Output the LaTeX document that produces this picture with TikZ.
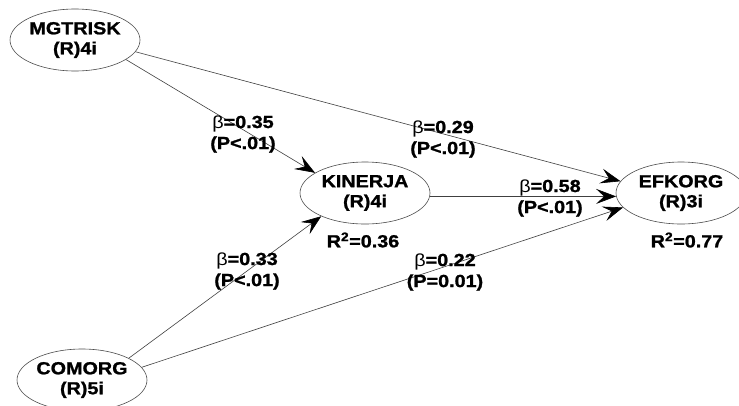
\documentclass[tikz,border=0pt]{standalone}
\usepackage{fontspec}
\setmainfont{Liberation Sans}
\newfontfamily\lblfont[FakeStretch=1.13,BoldFeatures={FakeBold=1.2}]{Liberation Sans}
\usetikzlibrary{shapes.geometric,arrows.meta}
\tikzset{
  construct/.style={ellipse,draw=black!70,line width=0.6pt,minimum width=130pt,minimum height=62pt,inner sep=0pt,align=center,font=\lblfont\bfseries\fontsize{17.5}{20}\selectfont},
  lbl/.style={align=center,inner sep=0pt,font=\lblfont\bfseries\fontsize{17.5}{21}\selectfont},
  path/.style={draw=black!75,line width=0.6pt,-{Stealth[length=20pt,width=15pt,inset=8pt,color=black]}},
}
\newcommand{\bt}{{\mdseries β}}
\begin{document}
\begin{tikzpicture}[x=1pt,y=-1pt]
\useasboundingbox[fill=white] (0,0) rectangle (739,405);
\node[construct] (m) at (75,40) {MGTRISK\\(R)4i};
\node[construct] (k) at (365,193) {KINERJA\\(R)4i};
\node[construct] (e) at (681,193) {EFKORG\\(R)3i};
\node[construct] (c) at (82,380) {COMORG\\(R)5i};
\draw[path] (m.-21) -- (k.158);
\draw[path] (m.-11) -- (e.169);
\draw[path] (k.-3) -- (e.183);
\draw[path] (c.25) -- (k.208);
\draw[path] (c.12) -- (e.194);
\node[lbl] (l1) at (243,134) {\bt=0.35\\(P<.01)};
\node[lbl] (l2) at (443,139) {\bt=0.29\\(P<.01)};
\node[lbl] (l3) at (550,198) {\bt=0.58\\(P<.01)};
\node[lbl] (l4) at (247,271) {\bt=0.33\\(P<.01)};
\node[lbl] (l5) at (445,272) {\bt=0.22\\(P=0.01)};
\node[lbl] (r1) at (363,240) {R\textsuperscript{2}=0.36};
\node[lbl] (r2) at (687,240) {R\textsuperscript{2}=0.77};
\end{tikzpicture}
\end{document}
